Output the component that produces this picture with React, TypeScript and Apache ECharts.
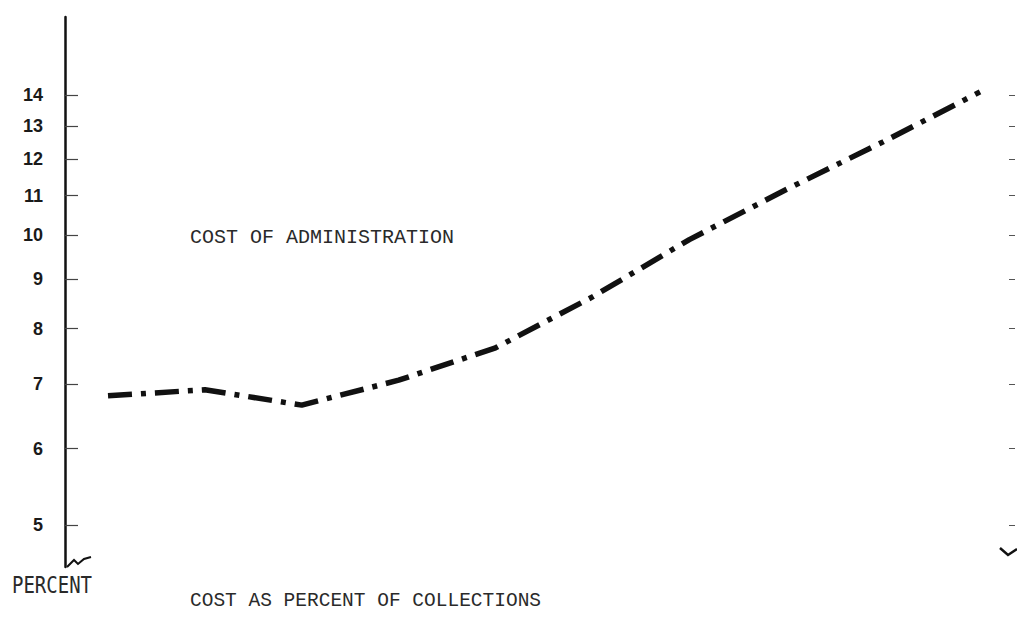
import React, { useEffect, useRef } from "react";
import * as echarts from "echarts";

// Data (log-scale percent axis)
const periods = ["1", "2", "3", "4", "5", "6", "7", "8", "9", "10"];
const costPercent = [6.81, 6.91, 6.66, 7.07, 7.64, 8.63, 9.9, 11.16, 12.51, 14.1];
const tickValues = [5, 6, 7, 8, 9, 10, 11, 12, 13, 14];
const axisMin = 4.52;
const axisMax = 16.87;

const INK = "#111";

export default function App() {
  const ref = useRef<HTMLDivElement>(null);

  useEffect(() => {
    if (!ref.current) return;
    const chart = echarts.init(ref.current, null, { renderer: "svg" });
    const logTicks = tickValues.map((v) => Math.log10(v));
    const fmt = (v: number) => String(Math.round(Math.pow(10, v)));

    chart.setOption({
      animation: false,
      backgroundColor: "#fff",
      grid: { left: 108, right: 37, top: 17, bottom: 51, containLabel: false },
      xAxis: {
        type: "category",
        data: periods,
        boundaryGap: false,
        show: false,
      },
      yAxis: [
        {
          type: "value",
          position: "left",
          offset: 43,
          min: Math.log10(axisMin),
          max: Math.log10(axisMax),
          splitLine: { show: false },
          axisLine: { show: true, lineStyle: { color: INK, width: 2.5 } },
          axisTick: {
            show: true,
            inside: true,
            length: 13,
            customValues: logTicks,
            lineStyle: { color: "#444", width: 1.2 },
          },
          axisLabel: {
            show: true,
            customValues: logTicks,
            formatter: fmt,
            margin: 22,
            color: "#1a1a1a",
            fontFamily: "Liberation Sans",
            fontSize: 18,
            fontWeight: 600,
          },
        },
        {
          type: "value",
          position: "right",
          offset: 35,
          min: Math.log10(axisMin),
          max: Math.log10(axisMax),
          splitLine: { show: false },
          axisLine: { show: false },
          axisTick: {
            show: true,
            inside: true,
            length: 6,
            customValues: logTicks,
            lineStyle: { color: "#555", width: 1 },
          },
          axisLabel: { show: false },
        },
      ],
      series: [
        {
          type: "line",
          data: costPercent.map((v) => Math.log10(v)),
          symbol: "none",
          lineStyle: { color: INK, width: 5.5, type: [24, 9, 5, 9] },
        },
      ],
      graphic: [
        {
          type: "text",
          left: 190,
          top: 227,
          style: {
            text: "COST OF ADMINISTRATION",
            fontFamily: "Liberation Mono",
            fontSize: 20,
            fill: "#2a2a2a",
          },
        },
        {
          type: "text",
          left: 190,
          top: 591,
          style: {
            text: "COST AS PERCENT OF COLLECTIONS",
            fontFamily: "Liberation Mono",
            fontSize: 19.5,
            fill: "#2a2a2a",
          },
        },
        {
          type: "text",
          x: 12,
          y: 573,
          scaleY: 1.25,
          style: {
            text: "PERCENT",
            fontFamily: "DejaVu Sans Mono",
            fontSize: 19,
            fill: "#2a2a2a",
          },
        },
        {
          type: "polyline",
          shape: { points: [[67, 567], [74, 560], [78, 564], [84, 559], [91, 557]] },
          style: { stroke: INK, lineWidth: 2, fill: "none" },
        },
        {
          type: "polyline",
          shape: { points: [[1000, 548], [1008, 555], [1017, 549]] },
          style: { stroke: INK, lineWidth: 2.5, fill: "none" },
        },
      ],
    });
    return () => chart.dispose();
  }, []);

  return (
    <div
      ref={ref}
      style={{ position: "absolute", left: 0, top: 0, width: 1017, height: 618 }}
    />
  );
}
